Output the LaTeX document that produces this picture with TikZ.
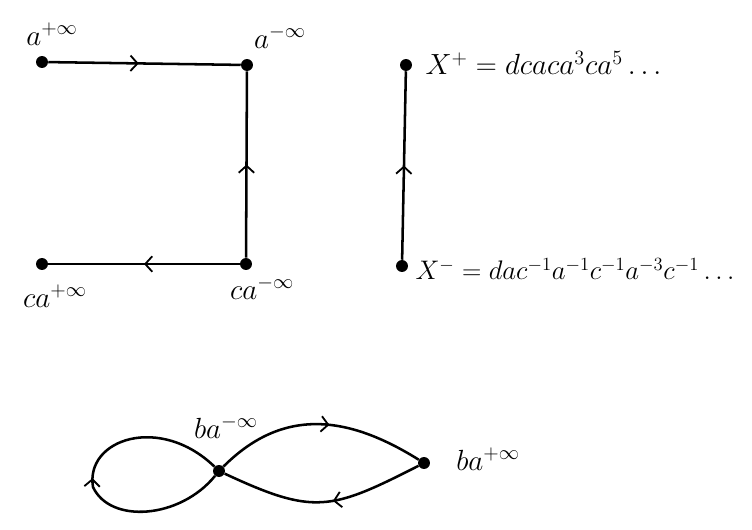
\documentclass[tikz,border=0pt]{standalone}
\usepackage{amsmath}
\usetikzlibrary{arrows.meta, decorations.markings}

\begin{document}
\begin{tikzpicture}[
    x=0.025cm, y=0.025cm,
    pt/.style={circle, fill=black, inner sep=0pt, minimum size=8.5pt},
    lbl/.style={font=\huge, inner sep=1pt},
    wire/.style={line width=1.8pt},
    midarrow/.style={postaction={decorate}, decoration={markings,
        mark=at position #1 with {\arrow{Straight Barb[length=5pt, width=11pt, line width=1.3pt]}}}},
]
    \useasboundingbox (0,0) rectangle (752,529);

    % Square of ends
    \node[pt] (ainf) at (42,467) {};
    \node[pt] (aminf) at (247,464) {};
    \node[pt] (caminf) at (246,265) {};
    \node[pt] (cainf) at (42,265) {};

    \node[lbl] (ainflbl) at (52,495) {$a^{+\infty}$};
    \node[lbl] (aminflbl) at (280,492) {$a^{-\infty}$};
    \node[lbl] (cainflbl) at (55,233) {$ca^{+\infty}$};
    \node[lbl] (caminflbl) at (262,241) {$ca^{-\infty}$};

    \draw[wire, midarrow=0.47] (ainf) -- (aminf);
    \draw[wire, midarrow=0.5] (caminf) -- (aminf);
    \draw[wire, midarrow=0.5] (caminf) -- (cainf);

    % Axis of X
    \node[pt] (xp) at (406,464) {};
    \node[pt] (xm) at (402,263) {};
    \node[lbl, anchor=west] (xplbl) at (424,466) {$X^{+} = dcaca^{3}ca^{5}\ldots$};
    \node[lbl, anchor=west, scale=0.92] (xmlbl) at (414,260)
        {$X^{-} = dac^{-1}a^{-1}c^{-1}a^{-3}c^{-1}\ldots$};

    \draw[wire, midarrow=0.5] (xm) -- (xp);

    % Figure eight
    \node[pt] (bam) at (219,58) {};
    \node[pt] (bap) at (424,66) {};
    \node[lbl] (bamlbl) at (226,102) {$ba^{-\infty}$};
    \node[lbl] (baplbl) at (488,70) {$ba^{+\infty}$};

    \draw[wire, midarrow=0.55] (bam) to[out=45, in=148, looseness=1.1] (bap);
    \draw[wire, midarrow=0.45] (bap) to[out=207, in=-25, looseness=1.3] (bam);
    \draw[wire, midarrow=0.5] (bam) .. controls (180,10) and (110,5) .. (93,42)
        .. controls (85,90) and (160,115) .. (bam);
\end{tikzpicture}
\end{document}
